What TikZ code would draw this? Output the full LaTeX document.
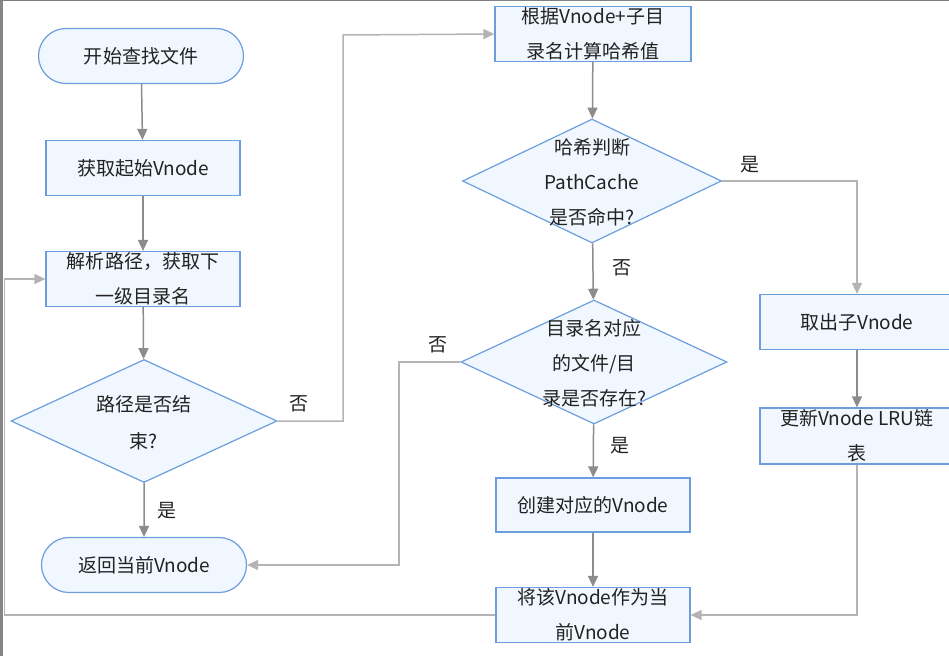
\documentclass[tikz,border=0pt]{standalone}
\usepackage{fontspec}
\setmainfont{Noto Sans CJK SC}
\usetikzlibrary{shapes, arrows.meta}

\definecolor{boxfill}{RGB}{240,247,255}
\definecolor{boxline}{RGB}{108,158,222}
\definecolor{flowgray}{RGB}{140,140,140}
\definecolor{backgray}{RGB}{180,180,180}
\definecolor{txtgray}{RGB}{34,34,34}
\newcommand\dtext[1]{\raisebox{-7bp}[0pt][0pt]{\begin{tabular}{@{}c@{}}#1\end{tabular}}}

\begin{document}
\begin{tikzpicture}[x=1bp, y=-1bp]
    \tikzset{step box/.style = {rectangle, draw = boxline, fill = boxfill,
        line width = 1.2bp, inner sep = 0pt, text = txtgray, align = center,
        minimum width = 194bp, minimum height = 55bp,
        font = \fontsize{19bp}{35bp}\selectfont},
      terminal/.style = {step box, rounded rectangle, minimum width = 205bp},
      decision/.style = {step box, diamond, minimum width = 266bp, minimum height = 124bp},
      flow/.style = {draw = flowgray, line width = 1.5bp,
        -{Triangle[length=11bp, width=10bp]}},
      back/.style = {flow, draw = backgray},
      answer/.style = {text = txtgray, font = \fontsize{19bp}{22bp}\selectfont}
    }

    \useasboundingbox (0,0) rectangle (949,656);
    \clip (0,0) rectangle (949,656);

    \def\colL{143};
    \def\colM{593};
    \def\colR{857};

    % Draw the screen frame.
    \fill[gray!95] (0,0) rectangle (3,656);
    \draw[gray, line width=1.5bp] (0,0.7) -- (949,0.7);

    % Draw the left column.
    \node[terminal] (start) at (141,56) {开始查找文件};
    \node[step box] (getv) at (\colL,168) {获取起始Vnode};
    \node[step box] (parse) at (\colL,279) {解析路径，获取下\\一级目录名};
    \node[decision, minimum height=123bp] (ended) at (144,421) {\dtext{路径是否结\\[2bp]束?}};
    \node[terminal] (ret) at (144,565) {返回当前Vnode};

    % Draw the middle column.
    \node[step box, minimum width=196bp] (hashv) at (\colM,34) {根据Vnode+子目\\录名计算哈希值};
    \node[decision, minimum width=259bp] (hit) at (592,181) {\dtext{哈希判断\\PathCache\\是否命中?}};
    \node[decision] (exists) at (594,362) {\dtext{目录名对应\\的文件/目\\录是否存在?}};
    \node[step box, minimum height=54bp] (create) at (\colM,505) {创建对应的Vnode};
    \node[step box] (setcur) at (\colM,615) {将该Vnode作为当\\前Vnode};

    % Draw the right column.
    \node[step box] (take) at (\colR,322) {取出子Vnode};
    \node[step box, minimum height=56bp] (lru) at (\colR,436) {更新Vnode LRU链\\表};

    \coordinate (jumpA) at (343,35);
    \coordinate (jumpB) at (399,460);
    \coordinate (loopL) at (4.5,450);

    % Draw the connectors.
    \draw[flow] (start) -- (getv);
    \draw[flow] (getv) -- (parse);
    \draw[flow] (parse) -- (ended);
    \draw[flow] (ended) -- (ret);
    \draw[back] (ended.east) -| (jumpA) -- (hashv.west);
    \draw[flow] (hashv) -- (hit);
    \draw[back] (hit.east) -| (take.north);
    \draw[flow] (hit) -- (exists);
    \draw[back] (exists.west) -| (jumpB) |- (ret.east);
    \draw[flow] (exists) -- (create);
    \draw[flow] (create) -- (setcur);
    \draw[flow] (take) -- (lru);
    \draw[back] (lru.south) |- (setcur.east);
    \draw[back] (setcur.west) -| (loopL) |- (parse.west);

    % Draw the answers.
    \node[answer] (endYes) at (167,511) {是};
    \node[answer] (endNo) at (299,404) {否};
    \node[answer] (hitYes) at (750,165) {是};
    \node[answer] (hitNo) at (622,268) {否};
    \node[answer] (existNo) at (438,345) {否};
    \node[answer] (existYes) at (620,446) {是};
\end{tikzpicture}
\end{document}
